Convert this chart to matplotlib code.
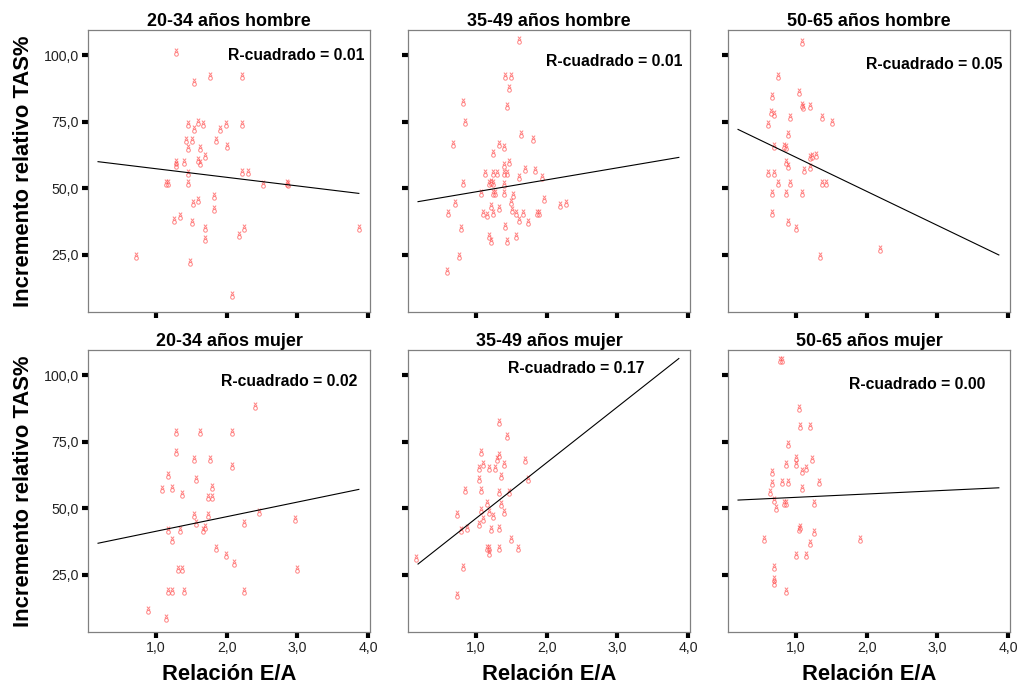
import numpy as np
import matplotlib
matplotlib.use("Agg")
import matplotlib.pyplot as plt
from matplotlib.path import Path

plt.rcParams['font.family'] = ['Liberation Sans', 'DejaVu Sans']

# ---------------- data ----------------
titles = ["20-34 años hombre", "35-49 años hombre", "50-65 años hombre",
          "20-34 años mujer", "35-49 años mujer", "50-65 años mujer"]
r2_labels = ["R-cuadrado = 0.01", "R-cuadrado = 0.01", "R-cuadrado = 0.05",
             "R-cuadrado = 0.02", "R-cuadrado = 0.17", "R-cuadrado = 0.00"]

x_20h = [1.28, 1.54, 1.76, 2.21, 1.455, 1.59, 1.67, 1.54, 1.90, 1.99, 2.21, 1.42, 1.51, 1.85,
         1.455, 1.62, 2.01, 1.70, 1.59, 1.62, 1.28, 1.28, 1.39, 1.45, 2.21, 2.30, 1.14, 1.17,
         1.45, 2.52, 2.85, 2.87, 1.82, 1.59, 1.53, 1.82, 1.25, 1.34, 1.51, 1.70, 1.70, 2.24,
         2.18, 3.87, 0.72, 1.48, 2.07]
y_20h = [101.3, 90.0, 92.1, 92.1, 74.1, 75.0, 74.1, 72.1, 72.1, 74.1, 74.1, 68.1, 68.1, 68.1,
         65.3, 65.3, 65.9, 62.3, 60.6, 59.6, 60.0, 58.8, 60.0, 55.6, 56.3, 56.3, 51.9, 51.9,
         51.9, 51.6, 51.9, 51.6, 47.1, 45.6, 44.4, 42.1, 38.1, 39.6, 37.5, 35.3, 30.9, 35.3,
         32.4, 35.3, 24.6, 22.5, 9.8]

x_35h = [1.61, 1.41, 1.50, 1.47, 0.82, 0.84, 1.44, 0.67, 1.64, 1.81, 1.33, 1.39, 1.24, 1.47,
         1.39, 1.70, 1.84, 1.13, 1.24, 1.30, 1.39, 1.44, 1.61, 1.93, 1.19, 1.24, 1.21, 0.82,
         1.39, 1.24, 1.27, 1.07, 1.39, 1.53, 1.96, 0.70, 2.19, 2.27, 0.61, 1.10, 1.16, 1.24,
         1.33, 1.21, 1.50, 1.51, 1.57, 1.67, 1.87, 1.89, 1.61, 1.74, 0.79, 1.41, 1.19, 1.21,
         1.44, 1.56, 0.76, 0.59]
y_35h = [105.6, 92.1, 92.1, 87.5, 82.5, 75.0, 80.9, 66.6, 70.4, 68.4, 66.6, 65.4, 63.4, 60.0,
         58.8, 57.1, 56.9, 55.6, 55.9, 55.6, 55.6, 55.6, 54.4, 54.4, 51.9, 51.9, 52.5, 51.9,
         51.5, 48.1, 48.1, 48.1, 48.1, 47.5, 45.9, 44.6, 43.8, 44.4, 40.6, 40.6, 40.0, 40.6,
         42.5, 43.4, 45.0, 41.9, 40.6, 40.6, 40.6, 40.6, 38.1, 37.5, 35.3, 35.9, 32.1, 30.4,
         30.4, 32.1, 24.6, 18.8]

x_50h = [1.09, 0.75, 0.66, 1.04, 1.09, 1.10, 1.20, 0.64, 0.69, 0.92, 1.37, 1.51, 0.61, 0.89,
         0.69, 0.83, 0.86, 1.20, 1.23, 1.28, 1.20, 0.86, 0.89, 1.12, 0.61, 0.69, 0.75, 0.92,
         1.37, 1.42, 0.66, 0.86, 1.09, 0.66, 0.89, 1.00, 1.34, 2.19]
y_50h = [105.0, 92.1, 84.6, 86.3, 81.3, 80.6, 80.9, 78.8, 77.9, 76.6, 76.6, 75.0, 74.1, 70.4,
         65.9, 65.9, 65.4, 61.9, 62.1, 62.5, 58.1, 60.0, 58.4, 56.9, 55.6, 55.6, 51.9, 51.9,
         51.9, 51.9, 48.1, 48.1, 48.1, 40.6, 37.5, 35.3, 24.6, 27.1]

x_20m = [2.40, 1.28, 1.62, 2.07, 1.28, 1.54, 1.76, 2.07, 1.17, 1.56, 1.09, 1.23, 1.37, 1.79,
         1.73, 1.79, 1.54, 1.56, 1.73, 1.70, 1.67, 2.46, 2.24, 2.97, 1.17, 1.34, 1.23, 1.85,
         1.99, 2.10, 1.31, 1.37, 3.00, 1.17, 1.23, 1.39, 2.24, 0.89, 1.14]
y_20m = [88.4, 78.8, 78.8, 78.8, 71.3, 68.4, 68.4, 65.9, 62.5, 61.1, 57.1, 57.8, 55.4, 58.1,
         54.1, 54.1, 47.4, 44.4, 47.4, 42.9, 41.9, 48.6, 44.4, 45.9, 41.9, 41.9, 38.1, 35.3,
         32.4, 29.4, 27.1, 27.1, 27.1, 18.8, 19.1, 18.8, 18.8, 11.9, 9.0]

x_35m = [1.33, 1.44, 1.07, 1.33, 1.30, 1.69, 1.10, 1.04, 1.19, 1.27, 1.40, 1.36, 1.04, 1.73,
         0.84, 1.07, 1.33, 1.47, 1.16, 1.36, 0.73, 1.07, 1.19, 1.40, 1.10, 1.24, 0.79, 0.87,
         1.04, 1.21, 1.33, 1.50, 1.59, 1.16, 1.19, 1.19, 1.33, 0.15, 0.82, 0.73]
y_35m = [82.5, 77.3, 71.3, 70.0, 68.4, 68.1, 66.6, 65.0, 65.0, 65.3, 66.6, 62.1, 60.9, 60.9,
         56.9, 56.9, 56.3, 56.3, 51.9, 51.6, 47.9, 49.4, 48.6, 48.6, 45.9, 47.1, 41.9, 42.5,
         44.1, 42.1, 42.5, 38.4, 35.3, 35.3, 35.3, 33.1, 35.3, 31.3, 27.9, 17.4]

x_50m = [0.77, 0.80, 1.04, 1.06, 1.20, 0.89, 1.00, 1.00, 1.23, 0.86, 0.66, 1.09, 1.14, 0.66,
         0.80, 0.89, 1.33, 1.09, 0.63, 0.69, 0.72, 0.83, 0.86, 1.25, 1.06, 1.04, 1.25, 0.55,
         1.90, 1.20, 1.00, 1.14, 0.69, 0.69, 0.69, 0.86]
y_50m = [105.6, 105.6, 87.5, 80.9, 80.9, 74.1, 69.0, 66.6, 68.4, 66.6, 63.8, 64.1, 65.3, 59.4,
         60.0, 60.0, 60.0, 57.8, 56.3, 53.1, 50.0, 51.9, 51.9, 51.9, 43.1, 42.1, 41.3, 38.4,
         38.4, 36.9, 32.4, 32.4, 28.1, 23.4, 21.9, 18.8]

# fitted regression lines (value at x = fit_x[0] and fit_x[1])
fit_x = [0.18, 3.87]
fit_20h = [60.0, 48.1]
fit_35h = [45.0, 61.6]
fit_50h = [72.1, 25.0]
fit_20m = [36.9, 57.1]
fit_35m = [29.1, 106.2]
fit_50m = [53.1, 57.7]

xs = [x_20h, x_35h, x_50h, x_20m, x_35m, x_50m]
ys = [y_20h, y_35h, y_50h, y_20m, y_35m, y_50m]
fits = [fit_20h, fit_35h, fit_50h, fit_20m, fit_35m, fit_50m]

x_ticks = [1.0, 2.0, 3.0, 4.0]
x_ticklabels = ["1,0", "2,0", "3,0", "4,0"]
y_ticks = [25.0, 50.0, 75.0, 100.0]
y_ticklabels = ["25,0", "50,0", "75,0", "100,0"]
x_label = "Relación E/A"
y_label = "Incremento relativo TAS%"

# ---------------- layout ----------------
r2_pos = [(0.982, 0.911), (0.975, 0.887), (0.975, 0.876),
          (0.957, 0.890), (0.840, 0.933), (0.911, 0.879)]

# custom marker: small "x" above a small "o"
circ = Path.circle(center=(0.0, -0.45), radius=0.45)
xmark = Path([(-0.4, 0.05), (0.4, 0.95), (-0.4, 0.95), (0.4, 0.05)],
             [Path.MOVETO, Path.LINETO, Path.MOVETO, Path.LINETO])
marker_path = Path.make_compound_path(xmark, circ)

W, H = 1020, 689
fig = plt.figure(figsize=(W / 100, H / 100), dpi=100)
lefts = [88, 408, 728]
tops = [30, 350]
aw, ah = 282, 282

spine_col = "#808080"
for i in range(6):
    r, c = divmod(i, 3)
    L = lefts[c]
    T = tops[r]
    ax = fig.add_axes([L / W, (H - T - ah) / H, aw / W, ah / H])
    ax.plot(xs[i], ys[i], linestyle='none', marker=marker_path, ms=5.6,
            mfc='none', mec='#ff5050', mew=0.7, alpha=0.7)
    ax.plot(fit_x, fits[i], color='black', lw=0.8)
    ax.set_xlim(0.038, 4.028)
    ax.set_ylim(3.6, 109.4)
    ax.set_xticks(x_ticks)
    ax.set_yticks(y_ticks)
    ax.tick_params(axis='both', direction='out', length=4.3, width=3.0,
                   color='black', labelsize=10.2, pad=2.5, labelcolor='#222222')
    if c == 0:
        ax.set_yticklabels(y_ticklabels)
        ax.set_ylabel(y_label, fontsize=15.8, fontweight='bold')
        ax.yaxis.set_label_coords(-0.19, 0.5)
    else:
        ax.set_yticklabels([])
    if r == 1:
        ax.set_xticklabels(x_ticklabels)
        ax.set_xlabel(x_label, fontsize=15.8, fontweight='bold')
        ax.xaxis.set_label_coords(0.5, -0.115)
    else:
        ax.set_xticklabels([])
    for s in ax.spines.values():
        s.set_color(spine_col)
        s.set_linewidth(0.9)
    ax.set_title(titles[i], fontsize=12.9, fontweight='bold', pad=3)
    ax.text(r2_pos[i][0], r2_pos[i][1], r2_labels[i], transform=ax.transAxes,
            ha='right', va='center', fontsize=11.3, fontweight='bold')

fig.savefig("out.png", dpi=100)
